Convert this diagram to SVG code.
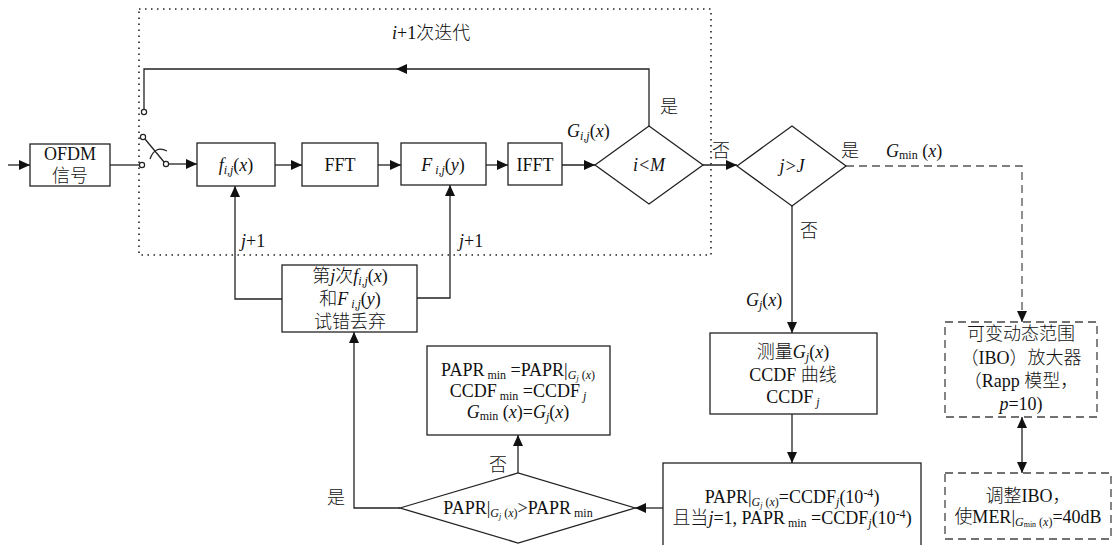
<svg xmlns="http://www.w3.org/2000/svg" width="1118" height="545" viewBox="0 0 1118 545">
<defs>
<marker id="ah" markerUnits="userSpaceOnUse" markerWidth="12" markerHeight="10" refX="11" refY="5" orient="auto"><path d="M0,0 L11,5 L0,10 Z" fill="#111"/></marker>
<marker id="ahs" markerUnits="userSpaceOnUse" markerWidth="12" markerHeight="10" refX="1" refY="5" orient="auto"><path d="M12,0 L1,5 L12,10 Z" fill="#111"/></marker>
<style>
.b{fill:#fff;stroke:#222;stroke-width:1.3}
.d{fill:#fff;stroke:#444;stroke-width:1.3;stroke-dasharray:8 5}
.c{fill:none;stroke:#222;stroke-width:1.3}
.cd{fill:none;stroke:#555;stroke-width:1.3;stroke-dasharray:8 5}
text{font-family:"Liberation Serif","Noto Sans CJK SC",serif;font-size:18px;font-weight:300;fill:#111}
.m{text-anchor:middle}
.i{font-style:italic}
.s{font-size:12px}
.t{font-size:8px}
.ci{fill:#fff;stroke:#222;stroke-width:1.2}
</style>
</defs>
<rect x="139" y="9" width="572" height="246" fill="none" stroke="#222" stroke-width="1.6" stroke-dasharray="1.5 4.5"/>
<text x="392" y="39"><tspan class="i">i</tspan>+1次迭代</text>

<g id="connectors">
<path class="c" d="M8,165 H30" marker-end="url(#ah)"/>
<path class="c" d="M110,165 H139.5"/>
<path class="c" d="M145,139 L164,162"/>
<path class="c" d="M150,159 Q155,145 167,151"/>
<path class="c" d="M168.5,164 H197" marker-end="url(#ah)"/>
<path class="c" d="M275,165 H302" marker-end="url(#ah)"/>
<path class="c" d="M378,165 H401" marker-end="url(#ah)"/>
<path class="c" d="M486,165 H508" marker-end="url(#ah)"/>
<path class="c" d="M562,165 H595" marker-end="url(#ah)"/>
<path class="c" d="M649,126 V69 H144 V109.5"/>
<path d="M396,69 L407,64 L407,74 Z" fill="#111"/>
<path class="c" d="M703,165 H737" marker-end="url(#ah)"/>
<path class="c" d="M792,206 V333" marker-end="url(#ah)"/>
<path class="cd" d="M846,166 H1022 V322" marker-end="url(#ah)"/>
<path class="c" d="M792,414 V463" marker-end="url(#ah)"/>
<path class="c" d="M663,508 H635" marker-end="url(#ah)"/>
<path class="c" d="M518,473 V435" marker-end="url(#ah)"/>
<path class="c" d="M400,508 H354 V332" marker-end="url(#ah)"/>
<path class="c" d="M282,299 H235 V186" marker-end="url(#ah)"/>
<path class="c" d="M417,298 H450 V185" marker-end="url(#ah)"/>
<path class="c" d="M1022,417 V473" marker-start="url(#ahs)" marker-end="url(#ah)"/>
<circle class="ci" cx="144" cy="112" r="2.6"/>
<circle class="ci" cx="143" cy="137" r="2.6"/>
<circle class="ci" cx="142" cy="165" r="2.6"/>
<circle class="ci" cx="166" cy="164" r="2.6"/>
</g>

<g id="labels">
<text x="660" y="113">是</text>
<text x="567" y="137"><tspan class="i">G</tspan><tspan class="s i" dy="3">i,j</tspan><tspan dy="-3">(</tspan><tspan class="i">x</tspan>)</text>
<text x="712" y="157">否</text>
<text x="841" y="157">是</text>
<text x="886" y="157"><tspan class="i">G</tspan><tspan class="s" dy="2">min</tspan><tspan dy="-2"> (</tspan><tspan class="i">x</tspan>)</text>
<text x="800" y="237">否</text>
<text x="746" y="306"><tspan class="i">G</tspan><tspan class="s i" dy="3">j</tspan><tspan dy="-3">(</tspan><tspan class="i">x</tspan>)</text>
<text x="241" y="247"><tspan class="i">j</tspan>+1</text>
<text x="459" y="247"><tspan class="i">j</tspan>+1</text>
<text x="489" y="471">否</text>
<text x="327" y="504">是</text>
</g>

<g id="ofdm"><rect class="b" x="30" y="144" width="80" height="42"/>
<text class="m" x="70" y="160">OFDM</text><text class="m" x="70" y="182">信号</text></g>

<g id="f"><rect class="b" x="197" y="143" width="78" height="43"/>
<text class="m" x="236" y="171"><tspan class="i">f</tspan><tspan class="s i" dy="3">i,j</tspan><tspan dy="-3">(</tspan><tspan class="i">x</tspan>)</text></g>

<g id="fft"><rect class="b" x="302" y="143" width="76" height="43"/>
<text class="m" x="340" y="171">FFT</text></g>

<g id="F"><rect class="b" x="401" y="143" width="85" height="42"/>
<text class="m" x="443" y="171"><tspan class="i">F</tspan><tspan class="s i" dy="3"> i,j</tspan><tspan dy="-3">(</tspan><tspan class="i">y</tspan>)</text></g>

<g id="ifft"><rect class="b" x="508" y="143" width="54" height="42"/>
<text class="m" x="535" y="171">IFFT</text></g>

<g id="dIM"><path class="b" d="M595,165 L649,126 L703,165 L649,204 Z"/>
<text class="m i" x="649" y="171">i&lt;M</text></g>

<g id="dJ"><path class="b" d="M737,166 L792,126 L846,166 L792,206 Z"/>
<text class="m i" x="792" y="172">j&gt;J</text></g>

<g id="measure"><rect class="b" x="710" y="333" width="167" height="81"/>
<text class="m" x="793" y="358">测量<tspan class="i">G</tspan><tspan class="s i" dy="3">j</tspan><tspan dy="-3">(</tspan><tspan class="i">x</tspan>)</text>
<text class="m" x="793" y="381">CCDF 曲线</text>
<text class="m" x="793" y="403">CCDF<tspan class="s i" dy="3"> j</tspan></text></g>

<g id="paprbox"><rect class="b" x="663" y="463" width="258" height="86"/>
<text class="m" x="792" y="503">PAPR|<tspan class="s i" dy="3">G</tspan><tspan class="t i" dy="2">j</tspan><tspan class="s" dy="-2"> (</tspan><tspan class="s i">x</tspan><tspan class="s">)</tspan><tspan dy="-3">=CCDF</tspan><tspan class="s i" dy="3">j</tspan><tspan dy="-3">(10</tspan><tspan class="s" dy="-6">-4</tspan><tspan dy="6">)</tspan></text>
<text class="m" x="792" y="524">且当<tspan class="i">j</tspan>=1, PAPR<tspan class="s" dy="3"> min</tspan><tspan dy="-3"> =CCDF</tspan><tspan class="s i" dy="3">j</tspan><tspan dy="-3">(10</tspan><tspan class="s" dy="-6">-4</tspan><tspan dy="6">)</tspan></text></g>

<g id="dPAPR"><path class="b" d="M400,508 L518,473 L635,508 L518,543 Z"/>
<text class="m" x="518" y="514">PAPR|<tspan class="s i" dy="3">G</tspan><tspan class="t i" dy="2">j</tspan><tspan class="s" dy="-2"> (</tspan><tspan class="s i">x</tspan><tspan class="s">)</tspan><tspan dy="-3">&gt;PAPR</tspan><tspan class="s" dy="3"> min</tspan></text></g>

<g id="minbox"><rect class="b" x="427" y="346" width="183" height="89"/>
<text class="m" x="518" y="376">PAPR<tspan class="s" dy="3"> min</tspan><tspan dy="-3"> =PAPR|</tspan><tspan class="s i" dy="3">G</tspan><tspan class="t i" dy="2">j</tspan><tspan class="s" dy="-2"> (</tspan><tspan class="s i">x</tspan><tspan class="s">)</tspan></text>
<text class="m" x="518" y="397">CCDF<tspan class="s" dy="3"> min</tspan><tspan dy="-3"> =CCDF</tspan><tspan class="s i" dy="3"> j</tspan></text>
<text class="m" x="518" y="418"><tspan class="i">G</tspan><tspan class="s" dy="2">min</tspan><tspan dy="-2"> (</tspan><tspan class="i">x</tspan>)=<tspan class="i">G</tspan><tspan class="s i" dy="3">j</tspan><tspan dy="-3">(</tspan><tspan class="i">x</tspan>)</text></g>

<g id="trial"><rect class="b" x="282" y="265" width="135" height="67"/>
<text class="m" x="350" y="282">第<tspan class="i">j</tspan>次<tspan class="i">f</tspan><tspan class="s i" dy="3">i,j</tspan><tspan dy="-3">(</tspan><tspan class="i">x</tspan>)</text>
<text class="m" x="350" y="305">和<tspan class="i">F</tspan><tspan class="s i" dy="3"> i,j</tspan><tspan dy="-3">(</tspan><tspan class="i">y</tspan>)</text>
<text class="m" x="350" y="328">试错丢弃</text></g>

<g id="ibo"><rect class="d" x="945" y="322" width="152" height="95"/>
<text class="m" x="1021" y="340">可变动态范围</text>
<text class="m" x="1021" y="364">（IBO）放大器</text>
<text class="m" x="1021" y="387">（Rapp 模型，</text>
<text class="m" x="1021" y="410"><tspan class="i">p</tspan>=10)</text></g>

<g id="adjust"><rect class="d" x="945" y="473" width="166" height="66"/>
<text class="m" x="1028" y="502">调整IBO，</text>
<text class="m" x="1028" y="523">使MER|<tspan class="s i" dy="3">G</tspan><tspan class="t" dy="1">min</tspan><tspan class="s" dy="-1"> (</tspan><tspan class="s i">x</tspan><tspan class="s">)</tspan><tspan dy="-3">=40dB</tspan></text></g>
</svg>
